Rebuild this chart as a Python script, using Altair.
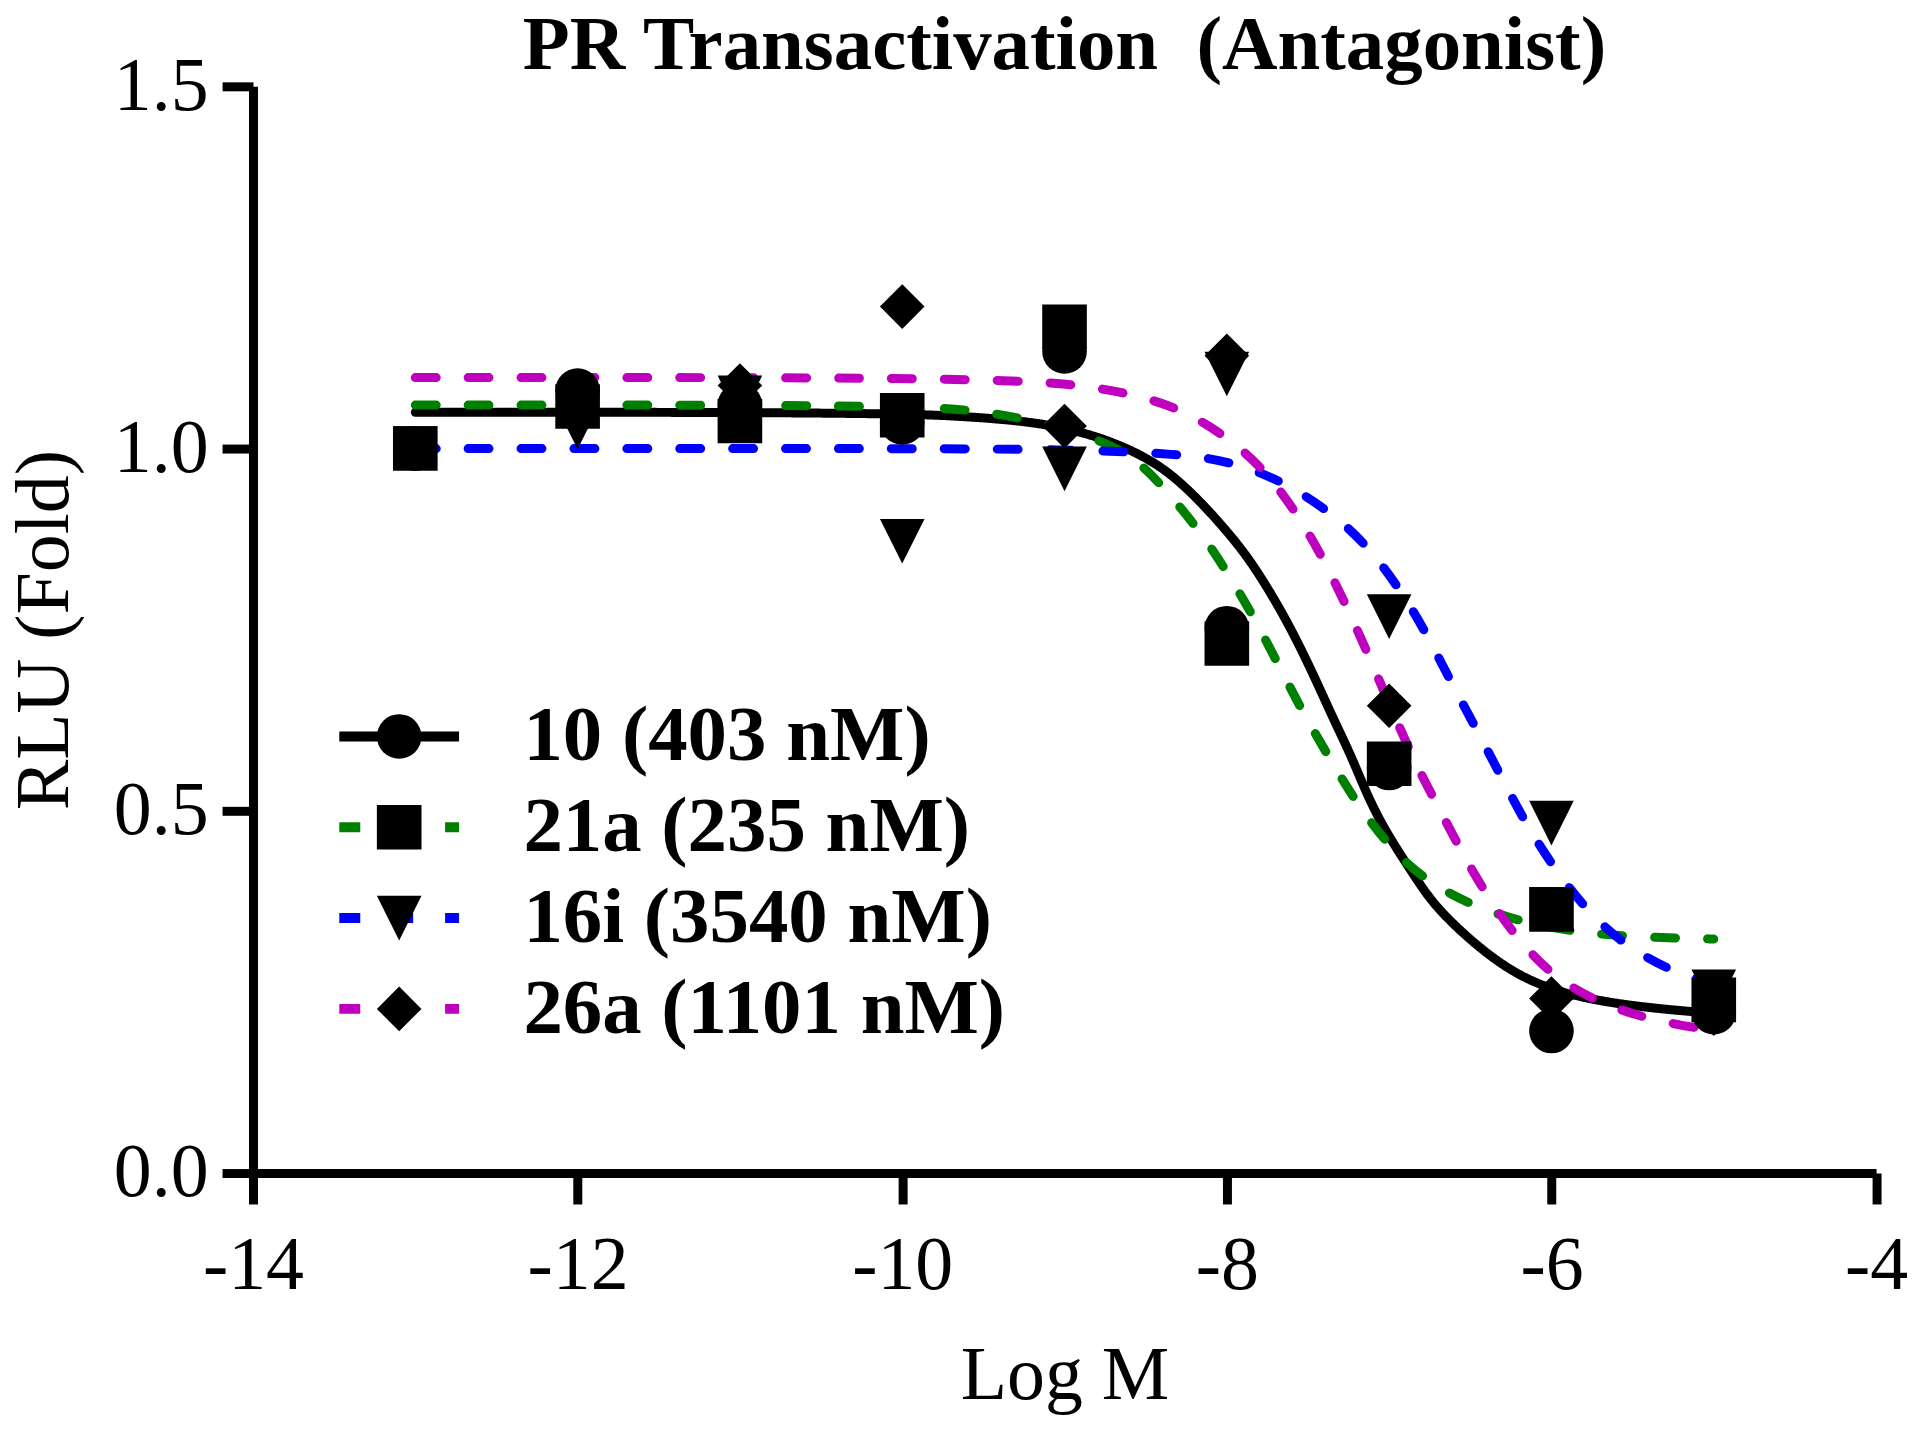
import altair as alt
import pandas as pd

# ---- measured data points (Log M) ----
log_m = [-13, -12, -11, -10, -9, -8, -7, -6, -5]
rlu_10 = [1.00, 1.08, 1.06, 1.036, 1.134, 0.752, 0.559, 0.196, 0.222]
rlu_21a = [1.00, 1.058, 1.038, 1.046, 1.168, 0.731, 0.565, 0.364, 0.239]
rlu_16i = [1.00, 1.03, 1.07, 0.872, 0.972, 1.103, 0.768, 0.483, 0.25]
rlu_26a = [1.00, 1.07, 1.087, 1.196, 1.031, 1.128, 0.645, 0.241, 0.22]

series_ids = ["10", "21a", "16i", "26a"]
series_labels = ["10 (403 nM)", "21a (235 nM)", "16i (3540 nM)", "26a (1101 nM)"]
line_colors = ["#000000", "#008000", "#0000FF", "#BF00BF"]
line_dashes = [[1, 0], [21, 32], [21, 32], [21, 32]]
marker_shapes = ["circle", "square", "M-1,-1H1L0,1Z", "diamond"]

# ---- fitted curves ----
fit_x_10 = [-13, -12, -11, -10, -9.64, -9.0, -8.51, -8.26, -8.02, -7.855, -7.69, -7.57,
            -7.45, -7.34, -7.24, -7.14, -7.03, -6.85, -6.77, -6.65, -6.34, -6.03, -5.62,
            -5.11, -5.0]
fit_y_10 = [1.05, 1.05, 1.05, 1.048, 1.045, 1.034, 0.993, 0.950, 0.892, 0.846, 0.786, 0.736,
            0.680, 0.625, 0.579, 0.524, 0.474, 0.412, 0.385, 0.352, 0.290, 0.253, 0.233,
            0.222, 0.221]

fit_x_21a = [-13, -12, -11, -10, -9.5, -8.93, -8.61, -8.42, -8.16, -8.0, -7.84, -7.68,
             -7.53, -7.36, -7.20, -6.97, -6.75, -6.46, -6.15, -5.83, -5.5, -5.15, -5.0]
fit_y_21a = [1.06, 1.06, 1.06, 1.058, 1.054, 1.025, 0.995, 0.955, 0.885, 0.830, 0.770, 0.701,
             0.635, 0.570, 0.510, 0.442, 0.400, 0.366, 0.345, 0.332, 0.326, 0.324, 0.323]

fit_x_16i = [-13, -12, -11, -10, -9, -8.28, -7.95, -7.64, -7.36, -7.14, -6.93, -6.77,
             -6.62, -6.46, -6.31, -6.16, -5.98, -5.77, -5.54, -5.25, -5.0]
fit_y_16i = [1.0, 1.0, 1.0, 1.0, 0.999, 0.993, 0.981, 0.953, 0.912, 0.868, 0.805, 0.745,
             0.678, 0.612, 0.547, 0.483, 0.419, 0.359, 0.313, 0.277, 0.262]

fit_x_26a = [-13, -12, -11, -10, -9.33, -8.95, -8.64, -8.32, -8.02, -7.78, -7.58, -7.41,
             -7.27, -7.13, -6.87, -6.72, -6.56, -6.42, -6.22, -5.99, -5.71, -5.40, -5.05, -5.0]
fit_y_26a = [1.098, 1.098, 1.098, 1.097, 1.094, 1.089, 1.078, 1.059, 1.020, 0.974, 0.915, 0.850,
             0.786, 0.717, 0.579, 0.515, 0.446, 0.391, 0.325, 0.271, 0.235, 0.212, 0.198, 0.197]

x_ticks = [-14, -12, -10, -8, -6, -4]
y_ticks = [0.0, 0.5, 1.0, 1.5]

# ---- tables ----
point_sets = [rlu_10, rlu_21a, rlu_16i, rlu_26a]
pts = pd.DataFrame(
    [{"logm": x, "rlu": y, "series": lab}
     for lab, ys in zip(series_labels, point_sets) for x, y in zip(log_m, ys)]
)
curve_sets = [(fit_x_10, fit_y_10), (fit_x_21a, fit_y_21a),
              (fit_x_16i, fit_y_16i), (fit_x_26a, fit_y_26a)]
curves = pd.DataFrame(
    [{"logm": x, "rlu": y, "curve": sid}
     for sid, (xs, ys) in zip(series_ids, curve_sets) for x, y in zip(xs, ys)]
)

FONT = "Liberation Serif"

x_enc = alt.X("logm:Q",
              scale=alt.Scale(domain=[-14, -4], nice=False, zero=False),
              axis=alt.Axis(values=x_ticks, title="Log M", labelExpr="'' + datum.value",
                            labelPadding=25, titleY=226, titleBaseline="alphabetic",
                            labelFlush=False))
y_enc = alt.Y("rlu:Q",
              scale=alt.Scale(domain=[0, 1.5], nice=False, zero=False),
              axis=alt.Axis(values=y_ticks, format=".1f", title="RLU (Fold)",
                            labelPadding=14, titleX=-185.5, titleY=544.5,
                            titleBaseline="alphabetic", titleAngle=-90))

LEG_X = 107
LEG_Y = 612

line_legend = alt.Legend(
    orient="none", legendX=LEG_X, legendY=LEG_Y, direction="vertical", title=None,
    symbolType="M-3,0H3", symbolSize=1600, symbolStrokeWidth=10,
    labelFontSize=79, labelFont=FONT, labelExpr="''", rowPadding=11, padding=0,
    zindex=0,
)

lines = alt.Chart(curves).mark_line(strokeWidth=9, strokeCap="round",
                                    interpolate="basis").encode(
    x=x_enc, y=y_enc,
    color=alt.Color("curve:N", scale=alt.Scale(domain=series_ids, range=line_colors),
                    legend=line_legend),
    strokeDash=alt.StrokeDash("curve:N", scale=alt.Scale(domain=series_ids, range=line_dashes),
                              legend=line_legend),
)

points = alt.Chart(pts).mark_point(filled=True, size=2000, color="black",
                                   opacity=1, strokeWidth=0).encode(
    x=x_enc, y=y_enc,
    shape=alt.Shape("series:N", scale=alt.Scale(domain=series_labels, range=marker_shapes),
                    legend=alt.Legend(
                        orient="none", legendX=LEG_X, legendY=LEG_Y, direction="vertical",
                        title=None, symbolSize=2000, symbolFillColor="black",
                        symbolStrokeWidth=0, symbolOpacity=1,
                        labelFont=FONT, labelFontSize=79, labelFontWeight="bold",
                        labelColor="black", labelLimit=0, labelOffset=85,
                        rowPadding=11, padding=0, zindex=1)),
)

chart = alt.layer(lines, points).properties(
    width=1626.5, height=1089,
    padding={"left": 245.5, "top": 77, "right": 36, "bottom": 250},
    autosize=alt.AutoSizeParams(type="none"),
    background="white",
    title=alt.TitleParams(text="PR Transactivation \u00a0(Antagonist)", font=FONT,
                          fontSize=77, fontWeight="bold", color="black",
                          anchor="middle", frame="group", offset=4, dy=41),
).configure_view(stroke=None).configure_axis(
    domainColor="black", domainWidth=9, tickColor="black", tickWidth=9, tickSize=31,
    grid=False, labelFont=FONT, labelFontSize=76, labelColor="black",
    titleFont=FONT, titleFontSize=76, titleFontWeight="normal", titleColor="black",
    labelOverlap=False,
)

chart.save("out.html", embed_options={"renderer": "svg", "actions": False})
